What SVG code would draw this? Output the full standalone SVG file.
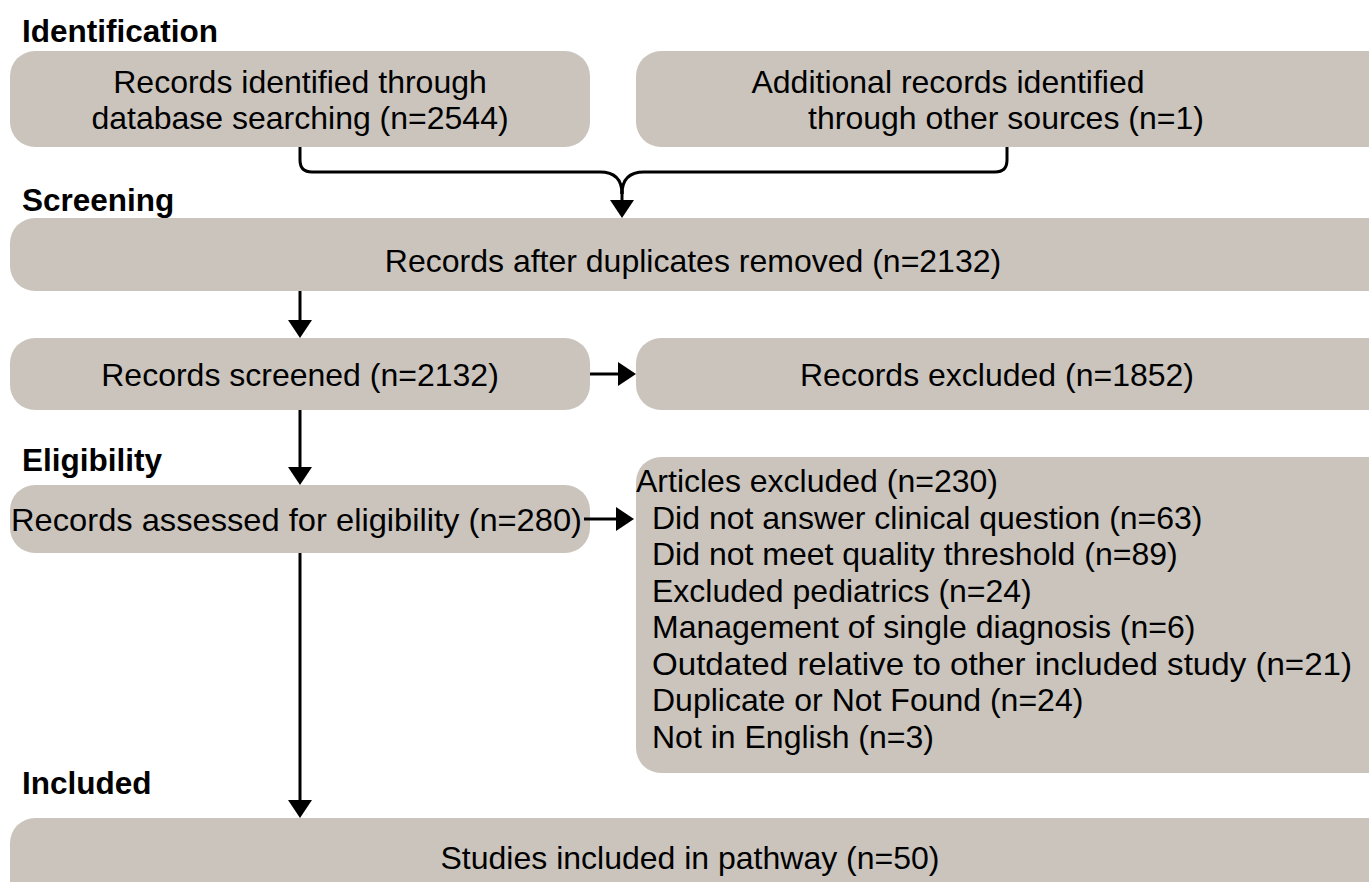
<svg xmlns="http://www.w3.org/2000/svg" width="1369" height="882" viewBox="0 0 1369 882">
  <style>
    .box { fill: #cac4bd; }
    .lbl { font-family: "Liberation Sans", Arial, sans-serif; font-size: 31.5px; font-weight: bold; fill: #000; }
    .txt { font-family: "Liberation Sans", Arial, sans-serif; font-size: 32px; fill: #000; }
    .mid { text-anchor: middle; }
    .wire { fill: none; stroke: #000; stroke-width: 3; }
  </style>
  <defs>
    <marker id="head" viewBox="0 0 18 24" refX="0" refY="12" markerWidth="18" markerHeight="24" markerUnits="userSpaceOnUse" orient="auto">
      <path d="M0,0 L18,12 L0,24 Z" fill="#000"/>
    </marker>
  </defs>

  <rect width="1369" height="882" fill="#fff"/>

  <!-- stage headings -->
  <g id="stages">
    <text class="lbl" x="22" y="42">Identification</text>
    <text class="lbl" x="22" y="211">Screening</text>
    <text class="lbl" x="22" y="471">Eligibility</text>
    <text class="lbl" x="22" y="794">Included</text>
  </g>

  <g id="db-records">
    <rect class="box" x="10" y="51" width="580" height="96" rx="25"/>
    <text class="txt mid" x="300" y="93">Records identified through</text>
    <text class="txt mid" x="300" y="129">database searching (n=2544)</text>
  </g>

  <g id="other-records">
    <rect class="box" x="636" y="51" width="760" height="96" rx="25"/>
    <text class="txt mid" x="948" y="93">Additional records identified</text>
    <text class="txt mid" x="1006" y="129">through other sources (n=1)</text>
  </g>

  <g id="deduplicated">
    <rect class="box" x="10" y="218" width="1390" height="73" rx="25"/>
    <text class="txt mid" x="693" y="272">Records after duplicates removed (n=2132)</text>
  </g>

  <g id="screened">
    <rect class="box" x="10" y="338" width="580" height="72" rx="25"/>
    <text class="txt mid" x="300" y="386">Records screened (n=2132)</text>
  </g>

  <g id="excluded">
    <rect class="box" x="636" y="338" width="760" height="72" rx="25"/>
    <text class="txt mid" x="997" y="386">Records excluded (n=1852)</text>
  </g>

  <g id="assessed">
    <rect class="box" x="10" y="485" width="580" height="68" rx="25"/>
    <text class="txt" x="11" y="531" textLength="571" lengthAdjust="spacingAndGlyphs">Records assessed for eligibility (n=280)</text>
  </g>

  <g id="articles-excluded">
    <rect class="box" x="636" y="457" width="760" height="316" rx="25"/>
    <text class="txt" x="636" y="492">Articles excluded (n=230)</text>
    <text class="txt" x="652" y="529">Did not answer clinical question (n=63)</text>
    <text class="txt" x="652" y="565">Did not meet quality threshold (n=89)</text>
    <text class="txt" x="652" y="602">Excluded pediatrics (n=24)</text>
    <text class="txt" x="652" y="638">Management of single diagnosis (n=6)</text>
    <text class="txt" x="652" y="675" textLength="700" lengthAdjust="spacingAndGlyphs">Outdated relative to other included study (n=21)</text>
    <text class="txt" x="652" y="711">Duplicate or Not Found (n=24)</text>
    <text class="txt" x="652" y="748">Not in English (n=3)</text>
  </g>

  <g id="included">
    <rect class="box" x="10" y="818" width="1390" height="90" rx="25"/>
    <text class="txt mid" x="690" y="869">Studies included in pathway (n=50)</text>
  </g>

  <!-- connectors -->
  <g id="connectors">
    <path class="wire" d="M300,147 V160 Q300,172 312,172 H600 Q622,172 622,194"/>
    <path class="wire" d="M1007,147 V160 Q1007,172 995,172 H644 Q622,172 622,194"/>
    <path class="wire" d="M622,190 V200" marker-end="url(#head)"/>
    <path class="wire" d="M300,291 V320" marker-end="url(#head)"/>
    <path class="wire" d="M590,374 H618" marker-end="url(#head)"/>
    <path class="wire" d="M300,410 V467" marker-end="url(#head)"/>
    <path class="wire" d="M584,519 H616" marker-end="url(#head)"/>
    <path class="wire" d="M300,553 V800" marker-end="url(#head)"/>
  </g>
</svg>
